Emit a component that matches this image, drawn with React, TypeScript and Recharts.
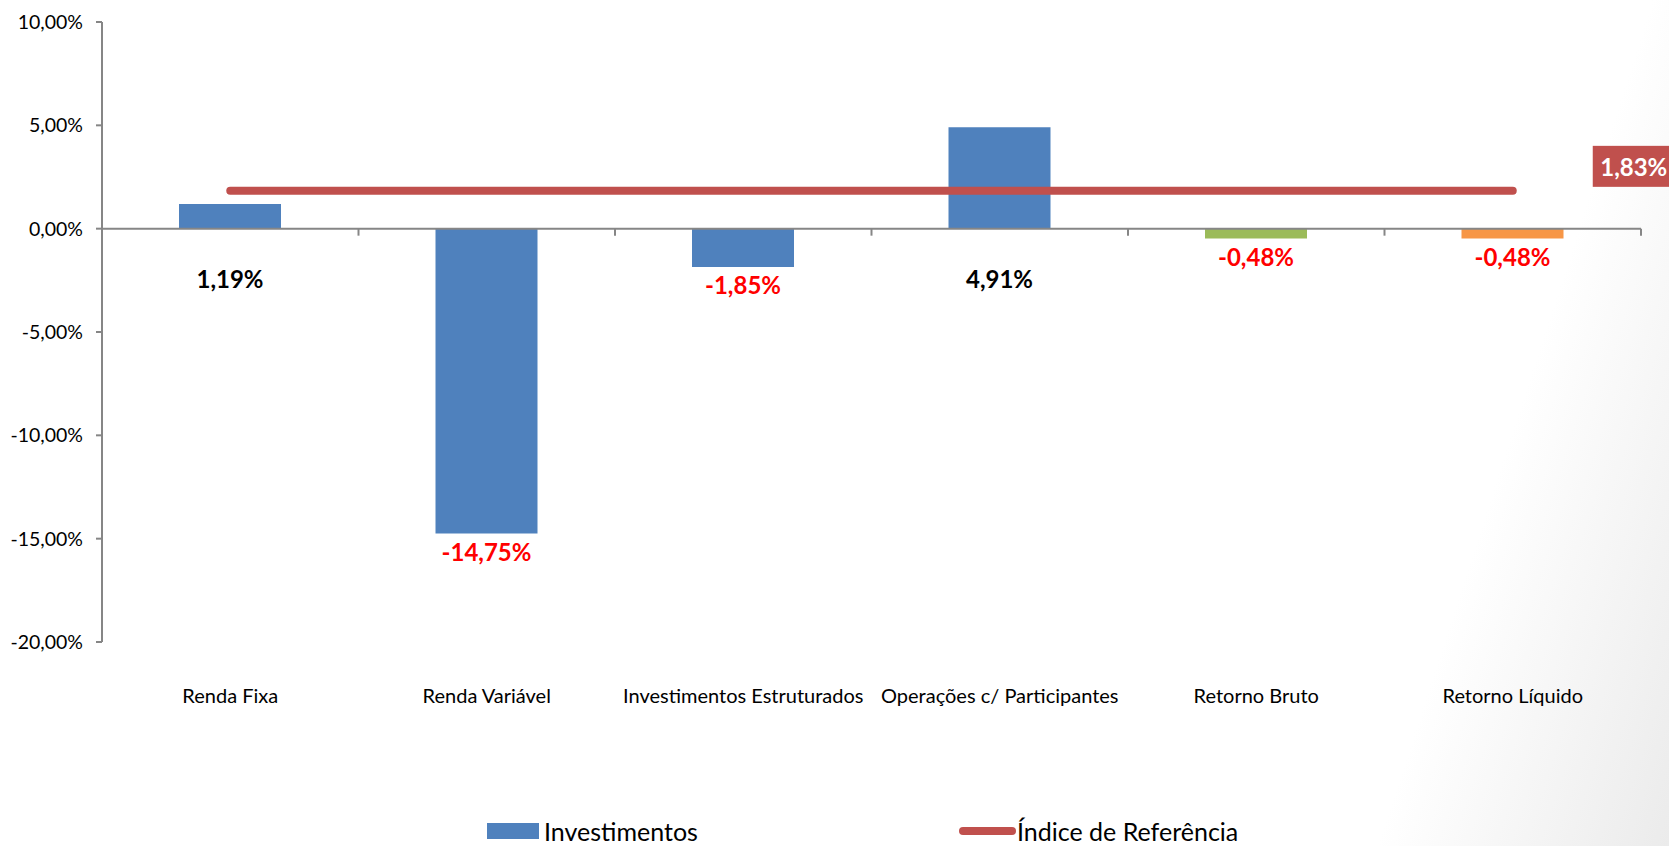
import React from 'react';
import {
  ComposedChart,
  Bar,
  Line,
  XAxis,
  YAxis,
  Cell,
  LabelList,
  ReferenceLine,
  Legend,
} from 'recharts';

const categories = [
  'Renda Fixa',
  'Renda Variável',
  'Investimentos Estruturados',
  'Operações c/ Participantes',
  'Retorno Bruto',
  'Retorno Líquido',
];
const investimentos = [1.19, -14.75, -1.85, 4.91, -0.48, -0.48];
const indiceReferencia = [1.83, 1.83, 1.83, 1.83, 1.83, 1.83];
const barColors = ['#4F81BD', '#4F81BD', '#4F81BD', '#4F81BD', '#9BBB59', '#F79646'];
const yTicks = [-20, -15, -10, -5, 0, 5, 10];

const data = categories.map((name, i) => ({
  name,
  inv: investimentos[i],
  indice: indiceReferencia[i],
}));

const FONT = 'Lato, "Noto Sans", sans-serif';
const AXIS_COLOR = '#868686';

const fmt = (v: number) => v.toFixed(2).replace('.', ',') + '%';

const BarValueLabel = (props: any) => {
  const vb = props.viewBox && props.viewBox.width !== undefined ? props.viewBox : props;
  const { x, y, width, height } = vb;
  const value = Number(props.value);
  const bottom = Math.max(y, y + height);
  const ly = bottom + (value >= 0 ? 50 : 18);
  return (
    <text
      x={x + width / 2}
      y={ly}
      textAnchor="middle"
      dominantBaseline="central"
      fill={value >= 0 ? '#000000' : '#FF0000'}
      fontWeight="bold"
      fontSize={24}
      fontFamily={FONT}
    >
      {fmt(value)}
    </text>
  );
};

const LineEndLabel = (props: any) => {
  const { x, y, index, value } = props;
  if (index !== categories.length - 1) return null;
  const bx = x + 80;
  const by = y - 45;
  return (
    <g>
      <rect x={bx} y={by} width={82} height={41} fill="#C0504D" />
      <text
        x={bx + 41}
        y={by + 21}
        textAnchor="middle"
        dominantBaseline="central"
        fill="#FFFFFF"
        fontWeight="bold"
        fontSize={24}
        fontFamily={FONT}
      >
        {fmt(Number(value))}
      </text>
    </g>
  );
};

const ZeroAxis = (props: any) => {
  const { x1, y1, x2 } = props;
  const n = categories.length;
  const ticks = [];
  for (let i = 0; i <= n; i++) {
    const tx = x1 + (i * (x2 - x1)) / n;
    ticks.push(<line key={i} x1={tx} y1={y1} x2={tx} y2={y1 + 7} stroke={AXIS_COLOR} strokeWidth={2} />);
  }
  return (
    <g>
      <line x1={x1} y1={y1} x2={x2} y2={y1} stroke={AXIS_COLOR} strokeWidth={2} />
      {ticks}
    </g>
  );
};

const CategoryTick = (props: any) => {
  const { x, y, payload } = props;
  return (
    <text x={x} y={y + 53} textAnchor="middle" dominantBaseline="central" fill="#000" fontSize={20} fontFamily={FONT}>
      {payload.value}
    </text>
  );
};

const LegendContent = () => (
  <div style={{ position: 'relative', height: 30, width: 1669, fontFamily: FONT, fontSize: 25, color: '#000' }}>
    <div style={{ position: 'absolute', left: 487, top: 0, height: 30, display: 'flex', alignItems: 'center' }}>
      <span style={{ display: 'inline-block', width: 52, height: 16, background: '#4F81BD', marginRight: 5 }} />
      <span>Investimentos</span>
    </div>
    <div style={{ position: 'absolute', left: 959, top: 0, height: 30, display: 'flex', alignItems: 'center' }}>
      <span style={{ display: 'inline-block', width: 57, height: 8, borderRadius: 4, background: '#C0504D', marginRight: 1 }} />
      <span>Índice de Referência</span>
    </div>
  </div>
);

export default function App() {
  return (
    <div
      style={{
        position: 'absolute',
        left: 0,
        top: 0,
        width: 1669,
        height: 846,
        background: 'linear-gradient(108deg, #ffffff 0%, #ffffff 85%, #ebebeb 100%)',
      }}
    >
      <ComposedChart
        width={1669}
        height={846}
        data={data}
        margin={{ top: 22, right: 28, left: 0, bottom: 0 }}
      >
        <XAxis
          dataKey="name"
          height={174}
          axisLine={false}
          tickLine={false}
          tickSize={0}
          tickMargin={0}
          interval={0}
          tick={<CategoryTick />}
        />
        <YAxis
          width={102}
          domain={[-20, 10]}
          ticks={yTicks}
          interval={0}
          tickFormatter={(v: number) => fmt(v)}
          axisLine={{ stroke: AXIS_COLOR, strokeWidth: 2 }}
          tickLine={{ stroke: AXIS_COLOR, strokeWidth: 2 }}
          tickSize={6}
          tickMargin={13}
          tick={{ fill: '#000', fontSize: 19.5, fontFamily: FONT }}
        />
        <Legend verticalAlign="bottom" height={30} wrapperStyle={{ left: 0, width: 1669 }} content={<LegendContent />} />
        <Bar dataKey="inv" barSize={102} isAnimationActive={false}>
          {data.map((_, i) => (
            <Cell key={i} fill={barColors[i]} />
          ))}
          <LabelList dataKey="inv" content={<BarValueLabel />} />
        </Bar>
        <ReferenceLine y={0} shape={<ZeroAxis />} />
        <Line
          dataKey="indice"
          stroke="#C0504D"
          strokeWidth={8}
          strokeLinecap="round"
          dot={false}
          activeDot={false}
          isAnimationActive={false}
        >
          <LabelList dataKey="indice" content={<LineEndLabel />} />
        </Line>
      </ComposedChart>
    </div>
  );
}
